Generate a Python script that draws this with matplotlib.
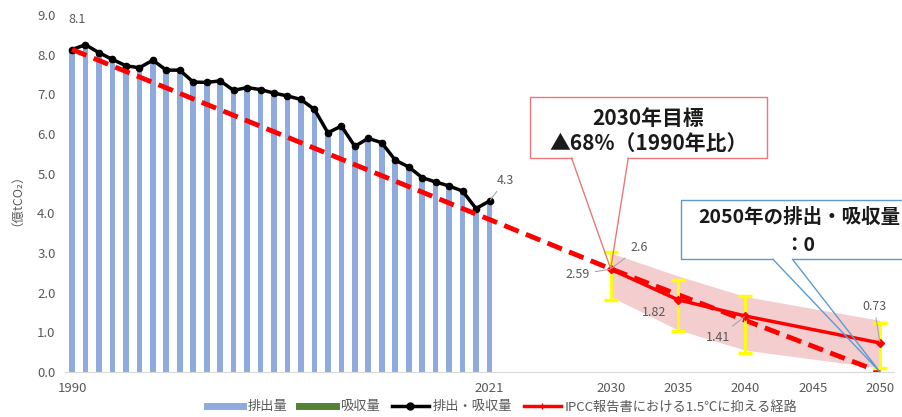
import numpy as np
import matplotlib
matplotlib.use("Agg")
import matplotlib.pyplot as plt
from matplotlib.lines import Line2D
from matplotlib.patches import Rectangle

plt.rcParams['font.family'] = ['Noto Sans CJK JP', 'DejaVu Sans']

# data
years = np.arange(1990, 2022)
net = [8.13, 8.25, 8.05, 7.88, 7.72, 7.67, 7.86, 7.61, 7.61, 7.31,
       7.30, 7.34, 7.10, 7.17, 7.12, 7.03, 6.96, 6.87, 6.62, 6.03,
       6.20, 5.69, 5.89, 5.78, 5.34, 5.17, 4.90, 4.79, 4.69, 4.56,
       4.12, 4.31]
emission = net

target_years = [1990, 2030, 2050]
target = [8.13, 2.6, 0.0]

ipcc_years = [2030, 2035, 2040, 2050]
ipcc = [2.59, 1.82, 1.41, 0.73]
ipcc_hi = [3.03, 2.33, 1.91, 1.23]
ipcc_lo = [1.81, 1.04, 0.47, 0.09]
band_hi = [3.0, 2.42, 1.9, 1.3]
band_lo = [1.9, 1.06, 0.55, 0.1]

xticks = [1990, 2021, 2030, 2035, 2040, 2045, 2050]
yticks = np.arange(0, 9.5, 1.0)

gray = '#595959'
blue = '#8FAADC'
green = '#548235'

fig = plt.figure(figsize=(9.03, 4.17), dpi=100)
ax = fig.add_axes([0.0723, 0.108, 0.9172, 0.856])

ax.bar(years, emission, width=0.42, color=blue, zorder=2)

ax.fill_between(ipcc_years, band_lo, band_hi, color='#F4CDCE', lw=0, zorder=1)

ax.plot(years, net, color='black', lw=2.5, marker='o', ms=4.5, zorder=4)

ax.plot(target_years, target, color='#FF0000', lw=3.5, dashes=(3.2, 1.6), zorder=5)

yerr = [np.array(ipcc) - np.array(ipcc_lo), np.array(ipcc_hi) - np.array(ipcc)]
ax.errorbar(ipcc_years, ipcc, yerr=yerr, fmt='none', ecolor='#FFFF00',
            elinewidth=2, capsize=5, capthick=2.5, zorder=6)
ax.plot(ipcc_years, ipcc, color='#FF0000', lw=2.5, marker='D', ms=4.5, zorder=7)

ax.set_xlim(1989.5, 2051)
ax.set_ylim(0, 9)
ax.set_xticks(xticks)
ax.set_yticks(yticks)
ax.set_yticklabels(['%.1f' % v for v in yticks])
ax.tick_params(length=0, labelsize=9.5, colors=gray, pad=7)
for s in ['top', 'right', 'left']:
    ax.spines[s].set_visible(False)
ax.spines['bottom'].set_color('#D9D9D9')

ax.set_ylabel('（億tCO₂）', color=gray, fontsize=9)
ax.yaxis.set_label_coords(-0.058, 0.5)


def dlabel(x, y, txt, dx, dy, leader=False):
    ax.annotate(txt, (x, y), xytext=(dx, dy), textcoords='offset pixels',
                ha='center', va='center', fontsize=9, color=gray, zorder=8,
                arrowprops=dict(arrowstyle='-', color='#A6A6A6', lw=0.8,
                                shrinkA=2, shrinkB=1) if leader else None)


dlabel(years[0], net[0], '8.1', 5, 30)
dlabel(years[-1], net[-1], '4.3', 16, 21, True)
dlabel(target_years[1], target[1], '2.6', 28, 21, True)
dlabel(ipcc_years[0], ipcc[0], '2.59', -33, -5, True)
dlabel(ipcc_years[1], ipcc[1], '1.82', -24, -13)
dlabel(ipcc_years[2], ipcc[2], '1.41', -27, -21, True)
dlabel(ipcc_years[3], ipcc[3], '0.73', -6, 37, True)


def callout(x0, x1, y0, y1, b1, b2, tip, color, lines, tx, ty, fs):
    ax.add_patch(Rectangle((x0, y0), x1 - x0, y1 - y0, facecolor='white',
                           edgecolor='none', zorder=9, clip_on=False))
    xs = [b2, x1, x1, x0, x0, b1]
    ys = [y0, y0, y1, y1, y0, y0]
    ax.plot(xs, ys, color=color, lw=1.0, zorder=10, clip_on=False)
    ax.plot([b1, tip[0], b2], [y0, tip[1], y0], color=color, lw=1.0,
            zorder=10, clip_on=False)
    for i, t in enumerate(lines):
        ax.text(tx, ty[i], t, ha='center', va='center', fontsize=fs,
                fontweight='bold', color='#1A1A1A', zorder=11)


callout(2024.0, 2041.6, 5.39, 6.94, 2027.1, 2031.3, (2030, 2.6), '#E8787C',
        ['2030年目標', '▲68%（1990年比）'], 2032.8, [6.4, 5.75], 15)
callout(2035.2, 2051.8, 2.84, 4.34, 2042.05, 2043.5, (2050, 0.0), '#5B9BD5',
        ['2050年の排出・吸収量', '：0'], 2044.0, [3.9, 3.2], 14)

handles = [Line2D([], [], color=blue, lw=5),
           Line2D([], [], color=green, lw=5),
           Line2D([], [], color='black', lw=2.5, marker='o', ms=5),
           Line2D([], [], color='#FF0000', lw=2.5, marker='+', ms=5)]
labels = ['排出量', '吸収量', '排出・吸収量', 'IPCC報告書における1.5℃に抑える経路']
fig.legend(handles, labels, loc='lower center', bbox_to_anchor=(0.556, -0.02),
           ncol=4, frameon=False, fontsize=9.5, labelcolor=gray,
           handlelength=2.8, columnspacing=0.9, handletextpad=0.3)

fig.savefig('out.png', dpi=100)
